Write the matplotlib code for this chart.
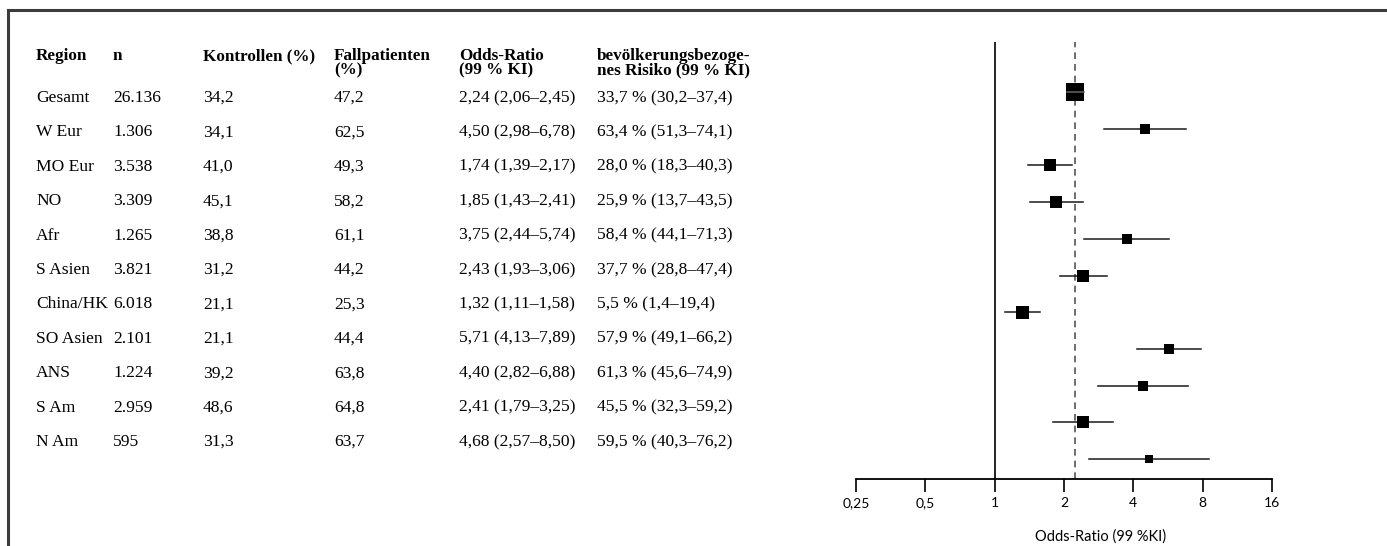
import matplotlib.pyplot as plt
from matplotlib.lines import Line2D

# Table data (INTERHEART-style regional odds ratios)
regions = ["Gesamt", "W Eur", "MO Eur", "NO", "Afr", "S Asien", "China/HK",
           "SO Asien", "ANS", "S Am", "N Am"]
n_vals = ["26.136", "1.306", "3.538", "3.309", "1.265", "3.821", "6.018",
          "2.101", "1.224", "2.959", "595"]
kontrollen = [34.2, 34.1, 41.0, 45.1, 38.8, 31.2, 21.1, 21.1, 39.2, 48.6, 31.3]
fallpatienten = [47.2, 62.5, 49.3, 58.2, 61.1, 44.2, 25.3, 44.4, 63.8, 64.8, 63.7]
odds = [2.24, 4.50, 1.74, 1.85, 3.75, 2.43, 1.32, 5.71, 4.40, 2.41, 4.68]
odds_lo = [2.06, 2.98, 1.39, 1.43, 2.44, 1.93, 1.11, 4.13, 2.82, 1.79, 2.57]
odds_hi = [2.45, 6.78, 2.17, 2.41, 5.74, 3.06, 1.58, 7.89, 6.88, 3.25, 8.50]
risk = [33.7, 63.4, 28.0, 25.9, 58.4, 37.7, 5.5, 57.9, 61.3, 45.5, 59.5]
risk_lo = [30.2, 51.3, 18.3, 13.7, 44.1, 28.8, 1.4, 49.1, 45.6, 32.3, 40.3]
risk_hi = [37.4, 74.1, 40.3, 43.5, 71.3, 47.4, 19.4, 66.2, 74.9, 59.2, 76.2]

headers = ["Region", "n", "Kontrollen (%)", "Fallpatienten\n(%)",
           "Odds-Ratio\n(99 % KI)", "bevölkerungsbezoge-\nnes Risiko (99 % KI)"]
tick_vals = [0.25, 0.5, 1, 2, 4, 8, 16]
tick_labels = ["0,25", "0,5", "1", "2", "4", "8", "16"]

# box sizes in pixels (study weight)
box_px = [18, 9.3, 11.3, 11.3, 9.3, 11.3, 13, 10.7, 9.3, 11.3, 8]


def de(v, d=1):
    return f"{v:.{d}f}".replace(".", ",")


W, H = 1387, 546
fig = plt.figure(figsize=(W / 100, H / 100), dpi=100)

# frame lines at top and left
fig.add_artist(Line2D([8 / W, 1], [1 - 10 / H, 1 - 10 / H], color="#3c3c3c", lw=2.2))
fig.add_artist(Line2D([8 / W, 8 / W], [0, 1 - 10 / H], color="#3c3c3c", lw=2.2))

# ---- table ----
serif = "Liberation Serif"
col_x = [36, 113, 203, 334, 459, 597]
head_y = 48
row_y0, row_dy = 98, 34.4

for x, h in zip(col_x, headers):
    fig.text(x / W, 1 - head_y / H, h, fontfamily=serif, fontweight="bold",
             fontsize=12.3, va="top", ha="left", linespacing=0.85)

for i in range(len(regions)):
    y = 1 - (row_y0 + row_dy * i) / H
    cells = [regions[i], n_vals[i], de(kontrollen[i]), de(fallpatienten[i]),
             f"{de(odds[i], 2)} ({de(odds_lo[i], 2)}–{de(odds_hi[i], 2)})",
             f"{de(risk[i])} % ({de(risk_lo[i])}–{de(risk_hi[i])})"]
    for x, c in zip(col_x, cells):
        fig.text(x / W, y, c, fontfamily=serif, fontsize=12.6, va="center", ha="left")

# ---- forest plot ----
ax = fig.add_axes([856 / W, 1 - 479 / H, (1272 - 856) / W, (479 - 42) / H])
ax.set_xscale("log", base=2)
ax.set_xlim(0.25, 16)
rows = list(range(len(regions)))
ax.set_ylim(10.54, -1.36)

ax.axvline(1, color="#222222", lw=1.4, zorder=1)
ax.axvline(odds[0], color="#555555", lw=1.2, ls=(0, (4, 3)), zorder=1)

for i in rows:
    ax.plot(odds[i], i, marker="s", ms=box_px[i] * 0.72, color="black",
            mec="black", mew=0, zorder=2)
    ax.plot([odds_lo[i], odds_hi[i]], [i, i], color="#666666" if i == 0 else "#1a1a1a",
            lw=1.1, zorder=3 if i == 0 else 1.5)

for s in ["left", "right", "top"]:
    ax.spines[s].set_visible(False)
ax.spines["bottom"].set_linewidth(1.3)
ax.set_yticks([])
ax.set_xticks(tick_vals)
ax.set_xticklabels(tick_labels)
ax.minorticks_off()
ax.tick_params(axis="x", direction="out", length=9, width=1.2, pad=4,
               labelsize=10, labelfontfamily="Lato")
ax.set_xlabel("Odds-Ratio (99 %KI)", fontfamily="Lato", fontsize=10.5, labelpad=10)
ax.xaxis.set_label_coords(0.589, -0.115)
ax.set_facecolor("none")

fig.savefig("out.png", dpi=100)
